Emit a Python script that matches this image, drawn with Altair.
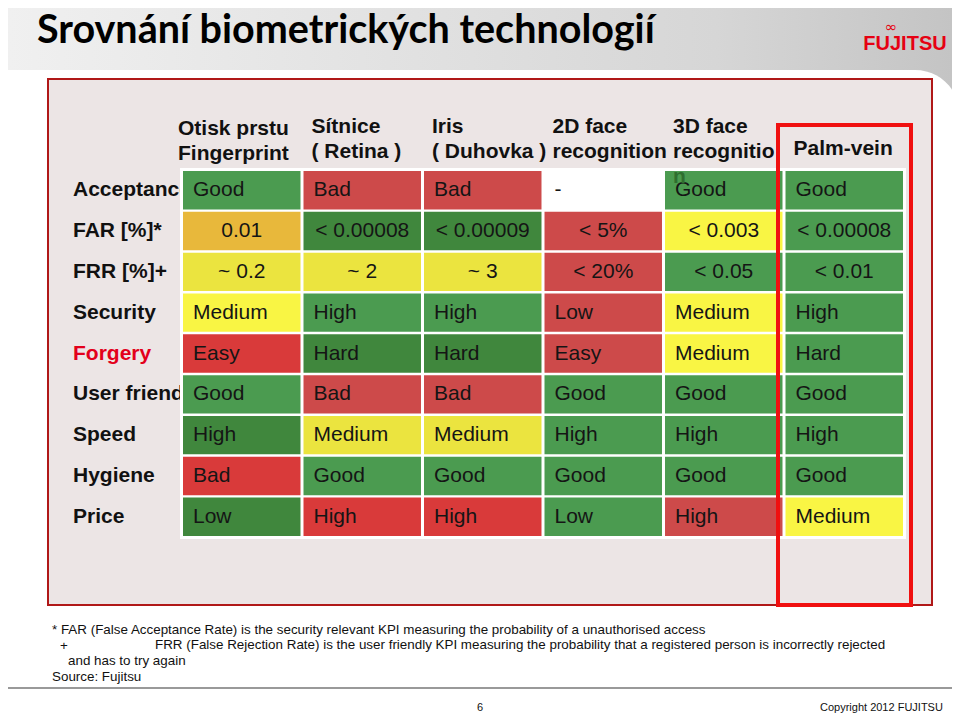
import altair as alt
import pandas as pd

# ---------------- data ----------------
techs = ["Fingerprint", "Retina", "Iris", "2D face", "3D face", "Palm-vein"]
header_line1 = ["Otisk prstu", "Sítnice", "Iris", "2D face", "3D face", ""]
header_line2 = ["Fingerprint", " ( Retina )", "( Duhovka )", "recognition", "recognitio", ""]
header_single = ["", "", "", "", "", "Palm-vein"]

rows = ["Acceptance", "FAR [%]*", "FRR [%]+", "Security", "Forgery",
        "User friend.", "Speed", "Hygiene", "Price"]

values = {
    "Acceptance":   ["Good", "Bad", "Bad", "-", "Good", "Good"],
    "FAR [%]*":     ["0.01", "< 0.00008", "< 0.00009", "< 5%", "< 0.003", "< 0.00008"],
    "FRR [%]+":     ["~ 0.2", "~ 2", "~ 3", "< 20%", "< 0.05", "< 0.01"],
    "Security":     ["Medium", "High", "High", "Low", "Medium", "High"],
    "Forgery":      ["Easy", "Hard", "Hard", "Easy", "Medium", "Hard"],
    "User friend.": ["Good", "Bad", "Bad", "Good", "Good", "Good"],
    "Speed":        ["High", "Medium", "Medium", "High", "High", "High"],
    "Hygiene":      ["Bad", "Good", "Good", "Good", "Good", "Good"],
    "Price":        ["Low", "High", "High", "Low", "High", "Medium"],
}

ratings = {
    "Acceptance":   ["green", "red", "red", "none", "green", "green"],
    "FAR [%]*":     ["orange", "darkgreen", "darkgreen", "red", "brightyellow", "green"],
    "FRR [%]+":     ["yellow", "yellow", "yellow", "red", "green", "green"],
    "Security":     ["brightyellow", "green", "green", "red", "brightyellow", "green"],
    "Forgery":      ["brightred", "darkgreen", "darkgreen", "red", "brightyellow", "green"],
    "User friend.": ["green", "red", "red", "green", "green", "green"],
    "Speed":        ["darkgreen", "yellow", "yellow", "green", "green", "green"],
    "Hygiene":      ["brightred", "green", "green", "green", "green", "green"],
    "Price":        ["darkgreen", "brightred", "brightred", "green", "red", "brightyellow"],
}

centered_rows = ["FAR [%]*", "FRR [%]+"]

footnote_1 = "* FAR (False Acceptance Rate) is the security relevant KPI measuring the probability of a unauthorised access"
footnote_2a = "+"
footnote_2b = "FRR (False Rejection Rate) is the user friendly KPI measuring the probability that a registered person is incorrectly rejected"
footnote_3 = "and has to try again"
footnote_4 = "Source: Fujitsu"
title_text = "Srovnání biometrických technologií"
page_no = "6"
copyright_text = "Copyright 2012 FUJITSU"

# ---------------- tables ----------------
cells = pd.DataFrame([
    {"tech": t, "row": r, "label": values[r][i], "rating": ratings[r][i]}
    for r in rows for i, t in enumerate(techs)
])
heads = pd.DataFrame({"tech": techs, "l1": header_line1, "l2": header_line2,
                      "single": header_single})
row_df = pd.DataFrame({"row": rows})
one = pd.DataFrame({"k": [0]})

rating_domain = ["green", "darkgreen", "red", "brightred", "yellow",
                 "brightyellow", "orange", "none"]
rating_range = ["#4b9b50", "#40873d", "#cd4a4a", "#d93a3a", "#ebe43f",
                "#f9f544", "#e8b83b", "#ffffff"]

FONT = "Liberation Sans, Arial, sans-serif"
W, H = 944, 707

xs = alt.Scale(domain=techs, range=[175, 895], paddingInner=0.025, paddingOuter=0)
ys = alt.Scale(domain=rows, range=[163, 528], paddingInner=0.06, paddingOuter=0)


def deco_rect(x, x2, y, y2, **kw):
    return alt.Chart(one).mark_rect(**kw).encode(
        x=alt.value(x), x2=alt.value(x2), y=alt.value(y), y2=alt.value(y2))


def deco_text(text, x, y, **kw):
    return alt.Chart(one).mark_text(text=text, **kw).encode(
        x=alt.value(x), y=alt.value(y))


grad = alt.LinearGradient(
    gradient="linear",
    stops=[alt.GradientStop(color="#f0f0f0", offset=0),
           alt.GradientStop(color="#d6d6d6", offset=0.75),
           alt.GradientStop(color="#c4c4c4", offset=1)],
    x1=0, x2=1, y1=0, y2=0)

band = deco_rect(0, W, 0, 110, color=grad)
body = deco_rect(-20, 952, 62, H + 20, color="#ffffff", cornerRadiusTopRight=45)

title = deco_text(title_text, 29, 35, align="left", baseline="alphabetic",
                  font="Lato, DejaVu Sans, sans-serif", fontSize=39.5,
                  fontWeight="bold", color="#000000")
logo = deco_text("FUJITSU", 897, 42, align="center", baseline="alphabetic",
                 font="Liberation Sans, sans-serif",
                 fontSize=20, fontWeight="bold", color="#e60012")
logo_inf = deco_text("∞", 883, 19, align="center", baseline="middle",
                     font="DejaVu Sans, sans-serif", fontSize=15, color="#e60012")

panel = deco_rect(40, 924, 71, 597, fill="#ece5e5", stroke="#b01818",
                  strokeWidth=2)

row_labels = alt.Chart(row_df).mark_text(
    align="left", baseline="middle", font=FONT, fontSize=21, fontWeight="bold"
).encode(
    x=alt.value(65),
    y=alt.Y("row:N", scale=ys, axis=None),
    text="row:N",
    color=alt.when(alt.datum.row == "Forgery").then(alt.value("#e3001b"))
    .otherwise(alt.value("#111111")),
)


def header_layer(field, y, dx, cond):
    return alt.Chart(heads).transform_filter(cond).mark_text(
        align="left", baseline="alphabetic", font=FONT, fontSize=21,
        fontWeight="bold", color="#111111", dx=dx
    ).encode(
        x=alt.X("tech:N", scale=xs, axis=None, bandPosition=0),
        y=alt.value(y),
        text=f"{field}:N",
    )


first = alt.datum.tech == "Fingerprint"
rest = alt.datum.tech != "Fingerprint"
headers = [
    header_layer("l1", 127, -5, first),
    header_layer("l2", 152, -5, first),
    header_layer("l1", 125, 8, rest),
    header_layer("l2", 150, 8, rest),
    header_layer("single", 147, 8, rest),
]

table_back = deco_rect(172, 898, 160, 531, color="#ffffff")

cell_rects = alt.Chart(cells).mark_rect().encode(
    x=alt.X("tech:N", scale=xs, axis=None),
    y=alt.Y("row:N", scale=ys, axis=None),
    color=alt.Color("rating:N", scale=alt.Scale(domain=rating_domain,
                                                range=rating_range),
                    legend=None),
)

cell_text_left = alt.Chart(cells).transform_filter(
    alt.FieldOneOfPredicate(field="row", oneOf=[r for r in rows if r not in centered_rows])
).mark_text(align="left", baseline="middle", font=FONT, fontSize=21,
            color="#151515", dx=10).encode(
    x=alt.X("tech:N", scale=xs, axis=None, bandPosition=0),
    y=alt.Y("row:N", scale=ys, axis=None),
    text="label:N",
)

cell_text_center = alt.Chart(cells).transform_filter(
    alt.FieldOneOfPredicate(field="row", oneOf=centered_rows)
).mark_text(align="center", baseline="middle", font=FONT, fontSize=21,
            color="#151515").encode(
    x=alt.X("tech:N", scale=xs, axis=None),
    y=alt.Y("row:N", scale=ys, axis=None),
    text="label:N",
)

overflow_n = alt.Chart(heads).transform_filter(alt.datum.tech == "3D face").mark_text(
    text="n", align="left", baseline="alphabetic", font=FONT, fontSize=21,
    fontWeight="bold", color="#2f6f2f", dx=8
).encode(
    x=alt.X("tech:N", scale=xs, axis=None, bandPosition=0),
    y=alt.value(175),
)

highlight = deco_rect(770, 903, 117, 597, fill=None, filled=False,
                      stroke="#f01010", strokeWidth=4)

fn_kw = dict(align="left", baseline="middle", font=FONT, fontSize=13.4,
             color="#111111")
foot = [
    deco_text(footnote_1, 44, 622, **fn_kw),
    deco_text(footnote_2a, 52, 638, **fn_kw),
    deco_text(footnote_2b, 147, 637, **fn_kw),
    deco_text(footnote_3, 60, 653, **fn_kw),
    deco_text(footnote_4, 44, 669, **fn_kw),
]

line = alt.Chart(one).mark_rule(color="#999999", strokeWidth=2).encode(
    x=alt.value(0), x2=alt.value(W), y=alt.value(680))

page = deco_text(page_no, 472, 700, align="center", baseline="middle",
                 font=FONT, fontSize=11, color="#111111")
copy = deco_text(copyright_text, 812, 700, align="left", baseline="middle",
                 font=FONT, fontSize=11, color="#111111")

chart = alt.layer(
    band, body, title, logo, logo_inf, panel, row_labels, *headers,
    table_back, cell_rects, cell_text_left, cell_text_center, overflow_n,
    highlight, *foot, line, page, copy,
).properties(
    width=W, height=H, padding=0,
    autosize=alt.AutoSizeParams(type="none"),
).configure_view(stroke=None).configure_axis(disable=True)

chart.save("out.html", embed_options={"renderer": "svg", "actions": False})
